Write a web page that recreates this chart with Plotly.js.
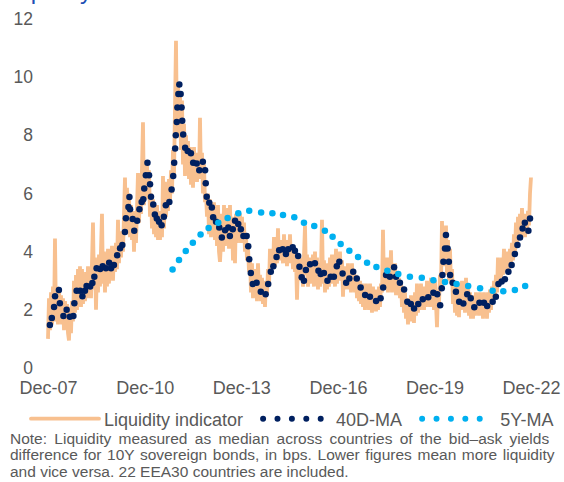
<!DOCTYPE html>
<html>
<head>
<meta charset="utf-8">
<script src="https://cdn.plot.ly/plotly-3.0.1.min.js"></script>
<style>
html,body{margin:0;padding:0;background:#fff;}
#chart{width:564px;height:482px;}
.legendlines path{stroke-linecap:round;}
g.annotation[data-index="1"] text{word-spacing:3.0px;}
g.annotation[data-index="2"] text{word-spacing:1.3px;}
</style>
</head>
<body>
<div id="chart"></div>
<script>
// Tick labels (x axis positions in decimal years)
const tickYears = [2007.92, 2010.92, 2013.92, 2016.92, 2019.92, 2022.92];
const tickLabels = ['Dec-07', 'Dec-10', 'Dec-13', 'Dec-16', 'Dec-19', 'Dec-22'];
const yTicks = [0, 2, 4, 6, 8, 10, 12];

// Liquidity indicator: regularly sampled series (start year, step in years)
const liqStart = 2007.901;
const liqStep = 0.031056;
const liquidity = [
1.0,2.4,1.3,2.6,1.5,2.8,1.6,4.45,1.6,2.8,1.5,2.7,1.7,2.5,1.5,2.4,1.3,2.3,1.4,2.2,
1.2,0.95,2.1,1.2,2.3,1.6,3.0,1.9,3.2,2.0,3.4,2.2,3.5,2.1,3.4,2.2,3.1,2.3,3.3,2.4,
3.5,2.5,3.4,2.4,3.6,5.0,2.7,3.8,2.0,3.5,2.6,3.9,2.8,3.9,5.3,2.9,4.0,2.6,3.9,2.8,
4.1,2.9,4.0,3.2,4.2,3.0,4.1,3.3,4.3,3.4,5.1,3.6,4.5,3.8,4.7,4.0,5.5,6.55,4.6,6.2,
4.8,6.0,4.5,5.6,4.4,5.4,4.0,5.3,4.3,5.8,6.7,5.0,6.2,5.3,6.4,8.45,5.6,7.0,5.8,7.0,
6.0,6.8,5.2,6.0,4.8,5.8,4.6,5.5,4.5,5.6,4.4,5.3,4.4,5.4,4.5,6.6,4.8,6.4,5.2,6.0,
5.4,6.5,5.7,6.8,6.0,7.5,6.6,9.0,11.25,8.0,9.7,8.5,9.5,7.5,9.2,7.0,8.4,6.6,8.0,6.8,
7.8,6.5,7.6,6.3,7.3,6.2,7.6,6.6,7.4,6.4,7.2,6.5,8.6,6.5,7.4,6.0,7.0,5.7,6.0,5.2,
6.0,4.6,5.8,4.5,5.6,4.6,5.7,4.4,5.5,4.2,5.6,4.0,3.65,4.3,5.3,4.0,5.6,4.2,5.4,4.3,
5.5,4.1,5.6,4.2,5.2,3.7,5.0,3.6,5.3,4.3,5.4,4.5,5.3,4.3,5.2,4.3,5.0,4.0,4.6,3.7,
4.2,3.3,3.8,2.6,3.6,2.4,3.4,2.5,3.3,2.3,3.6,2.6,3.2,2.3,3.1,2.2,2.9,2.1,3.0,2.5,
3.4,2.8,4.1,3.3,4.0,3.4,4.5,3.5,4.4,3.6,4.8,3.7,4.4,3.8,4.3,3.6,4.6,3.7,4.2,3.5,
4.4,3.7,4.6,3.6,4.2,3.4,4.0,3.3,3.8,2.35,3.6,3.0,3.8,3.0,3.6,2.8,4.0,4.9,3.2,3.9,
2.8,3.8,2.9,3.7,3.0,3.9,2.8,4.0,2.9,3.8,2.7,3.6,2.8,3.4,5.1,2.9,3.7,2.6,3.5,2.7,
3.6,2.8,3.8,2.9,3.9,3.0,3.6,2.8,4.1,2.9,3.9,3.2,4.0,3.0,3.7,2.45,3.5,2.7,3.4,2.8,
3.6,2.7,3.3,2.6,3.6,2.7,3.3,2.6,3.2,2.4,3.1,2.3,3.0,2.2,2.9,2.1,2.8,2.0,2.9,2.1,
2.8,2.0,2.9,2.2,1.9,2.8,2.0,2.7,1.95,2.6,2.0,2.8,2.1,2.9,2.6,4.75,2.8,3.6,2.7,3.8,
2.6,3.7,2.8,4.05,2.6,3.5,2.7,3.6,2.5,3.3,2.5,3.1,2.4,3.0,2.1,2.8,1.9,2.6,1.7,2.4,
1.5,2.3,1.6,2.5,1.6,2.3,1.55,2.6,1.8,2.9,1.9,2.7,2.0,2.9,2.1,2.8,2.0,2.7,2.1,3.0,
2.2,2.9,2.1,3.1,2.3,2.8,2.0,3.0,2.1,1.4,2.6,2.2,3.2,2.8,5.05,3.5,4.7,3.6,4.9,3.2,
4.4,3.0,4.1,2.9,3.4,2.2,3.0,1.9,2.9,1.8,2.8,1.75,2.9,2.0,3.0,2.2,2.9,1.9,3.1,2.1,
2.9,1.8,2.6,1.7,2.5,1.7,2.4,1.8,2.6,1.9,2.5,1.8,2.6,1.9,2.5,1.7,2.6,1.8,2.5,1.7,
2.6,1.9,2.7,2.0,2.8,2.2,3.0,2.4,3.2,2.6,3.8,2.9,3.6,3.1,3.8,3.2,4.1,3.3,3.9,3.3,
4.0,3.4,4.1,3.6,4.3,3.7,4.6,4.0,5.0,4.2,5.2,4.4,5.3,4.4,5.5,4.6,5.3,4.5,5.2,4.6,
5.4,4.9,6.0,6.55
];

// 40D-MA
const ma40Dates = [
2007.96,2008.02,2008.09,2008.12,2008.24,2008.27,2008.38,2008.48,2008.58,2008.69,
2008.72,2008.79,2008.90,2008.97,2009.05,2009.10,2009.21,2009.28,2009.34,2009.41,
2009.52,2009.60,2009.70,2009.80,2009.86,2009.95,2010.05,2010.14,2010.21,2010.29,
2010.32,2010.40,2010.43,2010.45,2010.53,2010.58,2010.67,2010.74,2010.81,2010.86,
2010.89,2010.94,2010.99,2011.04,2011.07,2011.10,2011.17,2011.22,2011.28,2011.35,
2011.43,2011.50,2011.56,2011.67,2011.74,2011.79,2011.82,2011.85,2011.87,2011.90,
2011.92,2011.95,2011.98,2012.02,2012.05,2012.07,2012.10,2012.16,2012.24,2012.34,
2012.41,2012.52,2012.60,2012.71,2012.78,2012.80,2012.83,2012.91,2012.99,2013.03,
2013.12,2013.22,2013.30,2013.40,2013.50,2013.55,2013.64,2013.71,2013.81,2013.89,
2013.97,2014.07,2014.12,2014.15,2014.20,2014.26,2014.38,2014.51,2014.66,2014.74,
2014.82,2014.90,2015.00,2015.08,2015.19,2015.29,2015.36,2015.50,2015.57,2015.67,
2015.71,2015.78,2015.85,2015.91,2016.04,2016.19,2016.30,2016.37,2016.47,2016.58,
2016.68,2016.78,2016.87,2016.95,2017.05,2017.16,2017.26,2017.38,2017.49,2017.61,
2017.75,2017.90,2018.09,2018.23,2018.31,2018.40,2018.52,2018.65,2018.71,2018.83,
2018.96,2019.06,2019.17,2019.27,2019.40,2019.54,2019.71,2019.87,2019.99,2020.08,
2020.13,2020.15,2020.18,2020.23,2020.26,2020.31,2020.35,2020.39,2020.47,2020.57,
2020.67,2020.80,2020.92,2021.03,2021.14,2021.30,2021.44,2021.54,2021.71,2021.81,
2021.89,2021.99,2022.09,2022.20,2022.30,2022.40,2022.48,2022.56,2022.64,2022.71,
2022.82,2022.87
];
const ma40 = [
1.48,1.72,2.10,2.47,2.68,2.23,1.79,2.00,1.76,1.79,
2.23,2.66,2.66,2.47,2.66,2.82,2.80,2.92,3.14,3.43,
3.40,3.50,3.43,3.62,3.43,3.54,3.88,4.12,4.23,4.68,
5.15,5.54,5.88,5.46,5.12,4.72,5.06,5.46,5.71,5.80,
6.17,6.63,7.06,6.63,6.32,5.89,5.62,5.28,5.14,5.03,
4.91,5.20,5.60,5.71,6.14,6.60,7.06,7.55,8.00,8.46,
8.96,9.42,9.75,9.42,8.96,8.50,8.03,7.57,7.46,7.38,
7.06,7.03,6.80,7.09,6.80,6.35,5.89,5.68,5.52,5.18,
5.03,4.83,4.49,4.74,4.83,4.54,4.77,5.06,4.95,4.77,
4.54,4.54,4.19,3.74,3.27,2.89,2.93,2.62,2.54,2.89,
3.31,3.50,3.82,4.05,4.08,3.92,4.08,4.15,4.03,3.85,
3.48,3.12,3.00,3.37,3.57,3.60,3.34,3.23,3.27,3.00,
3.14,3.14,3.50,3.65,3.25,2.93,3.08,3.31,3.08,2.77,
2.51,2.45,2.30,2.40,2.77,3.20,3.14,3.46,3.14,2.93,
2.70,2.28,2.20,2.05,2.20,2.36,2.43,2.59,2.54,2.16,
2.74,3.20,3.65,4.11,4.57,4.11,3.65,3.20,2.93,2.62,
2.28,2.22,2.54,2.40,2.09,2.24,2.24,2.13,2.28,2.45,
2.89,2.97,3.05,3.31,3.54,3.92,4.23,4.49,4.80,4.99,
4.72,5.14
];

// 5Y-MA
const ma5yDates = [
2011.77,2011.97,2012.18,2012.40,2012.64,2012.89,2013.19,2013.48,2013.81,2014.15,
2014.52,2014.87,2015.20,2015.55,2015.85,2016.17,2016.50,2016.74,2016.99,2017.26,
2017.53,2017.81,2018.10,2018.44,2018.78,2019.14,2019.51,2019.87,2020.23,2020.59,
2020.95,2021.32,2021.71,2022.04,2022.40,2022.72
];
const ma5y = [
3.39,3.71,4.02,4.31,4.59,4.81,4.99,5.16,5.32,5.41,
5.35,5.32,5.26,5.18,4.99,4.88,4.72,4.51,4.26,4.03,
3.82,3.62,3.47,3.34,3.23,3.14,3.10,3.02,2.96,2.89,
2.82,2.74,2.66,2.64,2.68,2.82
];

const seriesNames = ['Liquidity indicator', '40D-MA', '5Y-MA'];
const titleText = 'Liquidity deteriorates';
const noteLines = [
  'Note: Liquidity measured as median across countries of the bid\u2013ask yields',
  'difference for 10Y sovereign bonds, in bps. Lower figures mean more liquidity',
  'and vice versa. 22 EEA30 countries are included.'
];

const ORANGE = '#F8C08F', NAVY = '#002060', LBLUE = '#00B0F0';
const FONT = 'Liberation Sans, Arial, Helvetica, sans-serif';
const GREY = '#595959';
const NB = '\u00a0';

const traces = [
  {type: 'scatter', mode: 'lines', name: seriesNames[0] + NB + NB, y: liquidity, x0: liqStart, dx: liqStep,
   line: {color: ORANGE, width: 3.8}, hoverinfo: 'skip'},
  {type: 'scatter', mode: 'markers', name: seriesNames[1], x: ma40Dates, y: ma40,
   marker: {color: NAVY, size: 6.5}, showlegend: false, legendgroup: 'ma40'},
  {type: 'scatter', mode: 'markers', name: seriesNames[2], x: ma5yDates, y: ma5y,
   marker: {color: LBLUE, size: 6.5}, showlegend: false, legendgroup: 'ma5y'},
  {type: 'scatter', mode: 'lines', name: seriesNames[1] + NB + NB, x: [null], y: [null],
   line: {color: NAVY, width: 6, dash: '0px,14.4px'}, legendgroup: 'ma40'},
  {type: 'scatter', mode: 'lines', name: NB + seriesNames[2], x: [null], y: [null],
   line: {color: LBLUE, width: 6, dash: '0px,14.4px'}, legendgroup: 'ma5y'}
];

// pixel helpers for paper coords (plot area: x 40..545, y 19..368)
const PL = 40, PW = 505, PB = 368, PH = 349;
const px = v => (v - PL) / PW;
const py = v => (PB - v) / PH;

const annotations = [
  {text: titleText, xref: 'paper', yref: 'paper', x: px(2), y: py(6), xanchor: 'left', yanchor: 'bottom',
   showarrow: false, align: 'left', font: {family: FONT, size: 24, color: '#1F4FB4'}}
].concat(noteLines.map((t, i) => ({
   text: t, xref: 'paper', yref: 'paper', x: px(8), y: py(438 + i * 16.5), xanchor: 'left', yanchor: 'middle',
   showarrow: false, align: 'left', font: {family: FONT, size: 15.5, color: GREY}
})));

const layout = {
  width: 564, height: 482,
  margin: {l: 40, r: 19, t: 19, b: 114, pad: 0},
  paper_bgcolor: '#fff', plot_bgcolor: '#fff',
  font: {family: FONT, size: 18, color: GREY},
  showlegend: true,
  xaxis: {range: [2007.653, 2023.336], tickmode: 'array', tickvals: tickYears, ticktext: tickLabels,
          showgrid: false, zeroline: false, showline: false, ticks: '', fixedrange: true,
          tickfont: {family: FONT, size: 18, color: GREY}, ticklabelstandoff: 7},
  yaxis: {range: [0, 12], tickmode: 'array', tickvals: yTicks, ticktext: yTicks.map(String),
          showgrid: false, zeroline: false, showline: false, ticks: '', fixedrange: true,
          tickfont: {family: FONT, size: 17.5, color: GREY}, ticklabelstandoff: 6},
  legend: {orientation: 'h', x: px(26), xanchor: 'left', y: py(419), yanchor: 'middle',
           font: {family: FONT, size: 18, color: GREY}, itemwidth: 68, bgcolor: 'rgba(0,0,0,0)',
           traceorder: 'normal', itemclick: false, itemdoubleclick: false},
  annotations: annotations,
  hovermode: false
};

Plotly.newPlot('chart', traces, layout, {displayModeBar: false, staticPlot: true});
</script>
</body>
</html>
